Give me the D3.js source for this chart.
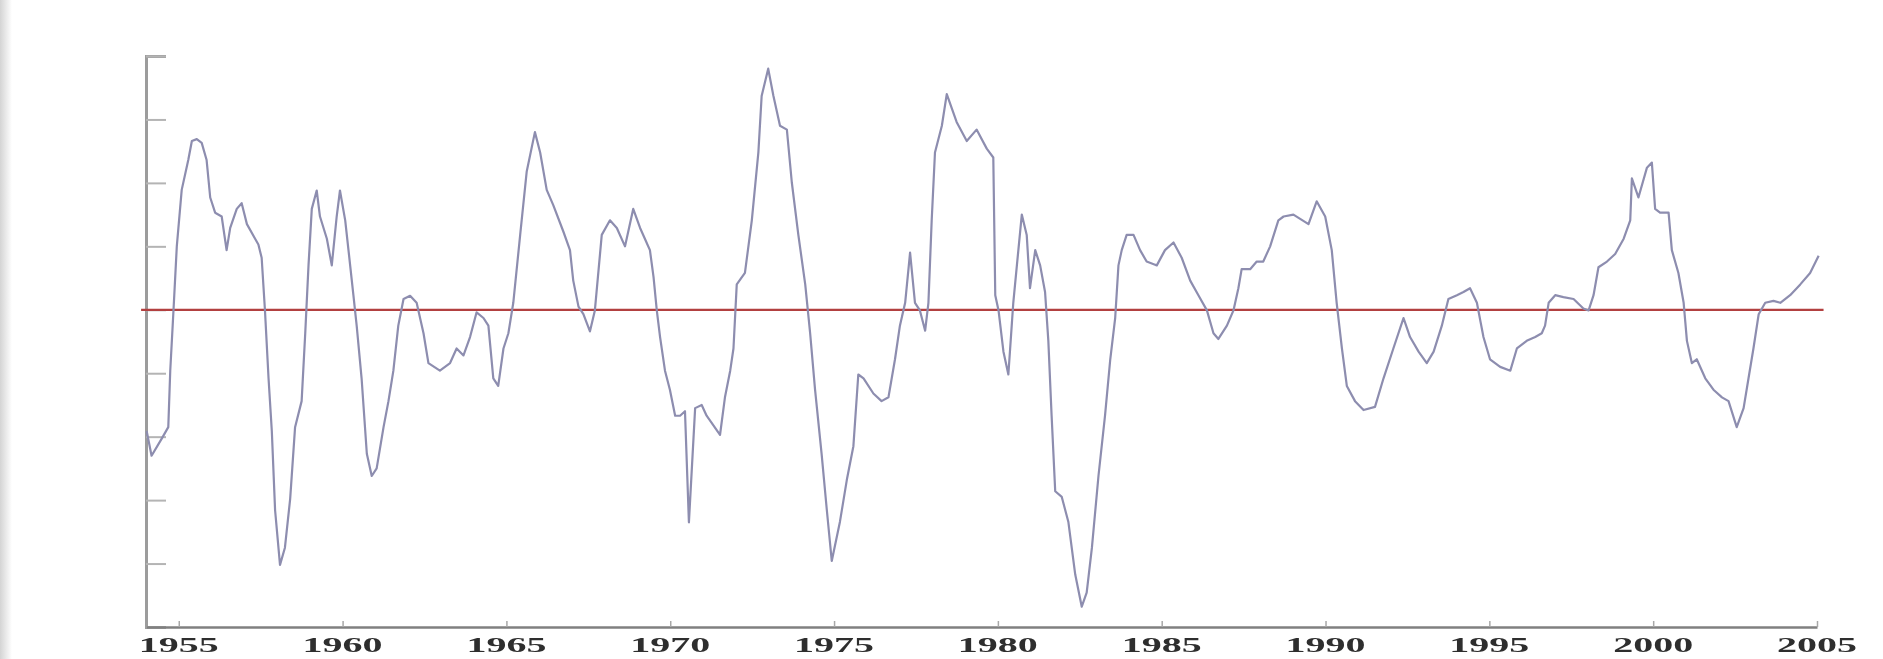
<!DOCTYPE html>
<html>
<head>
<meta charset="utf-8">
<script src="https://cdn.jsdelivr.net/npm/d3@7"></script>
<style>
  html, body { margin: 0; padding: 0; background: #ffffff; }
  svg { display: block; }
</style>
</head>
<body>
<svg id="chart" width="1883" height="659"></svg>
<script>
// ---- data ----
const years = [
  1954.02,1954.17,1954.48,1954.68,1954.74,1954.84,1954.94,1955.09,1955.29,1955.40,
  1955.55,1955.70,1955.85,1955.96,1956.11,1956.31,1956.46,1956.57,1956.77,1956.92,
  1957.08,1957.33,1957.43,1957.53,1957.63,1957.74,1957.84,1957.94,1958.09,1958.24,
  1958.40,1958.55,1958.75,1958.86,1958.96,1959.06,1959.21,1959.31,1959.52,1959.67,
  1959.82,1959.92,1960.08,1960.18,1960.33,1960.43,1960.58,1960.74,1960.89,1961.04,
  1961.25,1961.40,1961.55,1961.70,1961.86,1962.06,1962.26,1962.47,1962.62,
  1962.97,1963.28,1963.48,1963.69,1963.89,1964.09,1964.30,1964.45,1964.60,1964.75,
  1964.91,1965.06,1965.21,1965.42,1965.62,1965.87,1966.03,1966.23,1966.43,1966.74,
  1966.94,1967.04,1967.20,1967.35,1967.55,1967.70,1967.91,1968.16,1968.37,1968.62,
  1968.87,1969.08,1969.38,1969.49,1969.59,1969.69,1969.84,1969.99,1970.15,1970.30,
  1970.45,1970.57,1970.76,1970.96,1971.11,1971.52,1971.67,1971.83,1971.93,1972.03,
  1972.28,1972.49,1972.69,1972.79,1972.99,1973.15,1973.35,1973.56,1973.71,1973.91,
  1974.12,1974.27,1974.42,1974.62,1974.78,1974.93,1975.18,1975.39,1975.59,1975.74,
  1975.90,1976.20,1976.45,1976.66,1976.86,1977.01,1977.17,1977.32,1977.47,1977.62,
  1977.78,1977.88,1977.98,1978.08,1978.29,1978.44,1978.74,1979.05,1979.35,1979.66,
  1979.86,1979.92,1980.02,1980.17,1980.32,1980.47,1980.58,1980.73,1980.88,1980.98,
  1981.14,1981.29,1981.44,1981.54,1981.64,1981.75,1981.95,1982.15,1982.36,1982.56,
  1982.71,1982.87,1983.07,1983.27,1983.43,1983.58,1983.68,1983.78,1983.93,1984.14,
  1984.34,1984.54,1984.85,1985.10,1985.36,1985.61,1985.87,1986.12,1986.38,1986.58,
  1986.73,1986.99,1987.19,1987.34,1987.44,1987.70,1987.90,1988.10,1988.31,1988.56,
  1988.72,1989.02,1989.48,1989.73,1989.99,1990.19,1990.34,1990.50,1990.65,1990.90,
  1991.16,1991.51,1991.77,1992.07,1992.38,1992.58,1992.84,1993.09,1993.30,1993.55,
  1993.75,1994.01,1994.21,1994.41,1994.62,1994.82,1995.02,1995.33,1995.64,1995.84,
  1996.14,1996.40,1996.60,1996.70,1996.81,1997.01,1997.26,1997.57,1997.87,1998.03,
  1998.18,1998.33,1998.59,1998.84,1999.10,1999.30,1999.35,1999.55,1999.81,1999.96,
  2000.06,2000.21,2000.47,2000.57,2000.77,2000.93,2001.03,2001.18,2001.33,2001.59,
  2001.84,2002.10,2002.30,2002.55,2002.76,2002.91,2003.06,2003.22,2003.42,2003.67,
  2003.88,2004.18,2004.49,2004.79,2005.05
];
const values = [
  -1.91,-2.30,-2.03,-1.85,-0.96,0.00,1.00,1.89,2.36,2.66,
  2.69,2.63,2.36,1.77,1.53,1.47,0.94,1.29,1.59,1.68,
  1.35,1.12,1.03,0.82,0.00,-1.08,-1.91,-3.16,-4.02,-3.75,
  -2.98,-1.85,-1.44,-0.37,0.70,1.59,1.88,1.47,1.12,0.70,
  1.47,1.88,1.41,0.94,0.23,-0.25,-1.08,-2.27,-2.62,-2.50,
  -1.85,-1.44,-0.96,-0.25,0.17,0.22,0.11,-0.37,-0.84,
  -0.96,-0.84,-0.61,-0.72,-0.43,-0.04,-0.13,-0.25,-1.08,-1.20,
  -0.61,-0.37,0.11,1.18,2.18,2.80,2.48,1.89,1.65,1.23,
  0.94,0.46,0.05,-0.07,-0.34,-0.01,1.18,1.41,1.29,1.00,
  1.59,1.29,0.94,0.52,-0.01,-0.43,-0.96,-1.26,-1.67,-1.67,
  -1.60,-3.35,-1.55,-1.50,-1.67,-1.97,-1.38,-0.96,-0.61,0.40,
  0.58,1.41,2.48,3.37,3.80,3.37,2.90,2.84,2.01,1.18,
  0.40,-0.37,-1.26,-2.27,-3.16,-3.96,-3.34,-2.68,-2.15,-1.02,
  -1.08,-1.32,-1.44,-1.38,-0.78,-0.25,0.11,0.90,0.11,-0.01,
  -0.33,0.11,1.41,2.48,2.90,3.40,2.96,2.66,2.84,2.54,
  2.40,0.23,-0.01,-0.66,-1.02,0.11,0.70,1.50,1.18,0.34,
  0.94,0.70,0.28,-0.49,-1.67,-2.86,-2.95,-3.34,-4.17,-4.68,
  -4.46,-3.75,-2.62,-1.67,-0.78,-0.13,0.70,0.94,1.18,1.18,
  0.94,0.76,0.70,0.94,1.06,0.82,0.46,0.23,-0.01,-0.37,
  -0.46,-0.25,-0.01,0.34,0.64,0.64,0.76,0.76,1.00,1.41,
  1.47,1.50,1.35,1.71,1.47,0.94,0.11,-0.61,-1.20,-1.44,
  -1.58,-1.53,-1.08,-0.61,-0.13,-0.43,-0.66,-0.84,-0.66,-0.25,
  0.17,0.23,0.28,0.34,0.11,-0.43,-0.78,-0.90,-0.96,-0.61,
  -0.49,-0.43,-0.37,-0.25,0.11,0.23,0.20,0.17,0.02,-0.01,
  0.23,0.67,0.76,0.88,1.12,1.41,2.07,1.77,2.24,2.32,
  1.59,1.53,1.53,0.94,0.58,0.11,-0.49,-0.84,-0.78,-1.08,
  -1.26,-1.38,-1.44,-1.85,-1.55,-1.08,-0.61,-0.07,0.11,0.14,
  0.11,0.23,0.40,0.58,0.85
];
const xTickYears = [1955, 1960, 1965, 1970, 1975, 1980, 1985, 1990, 1995, 2000, 2005];
const yTickValues = [-5, -4, -3, -2, -1, 0, 1, 2, 3, 4];
const xDomain = [1954, 2005];
const yDomain = [-5, 4];
const referenceLevel = 0;
const referenceSpan = [1953.85, 2005.2];

// ---- drawing ----
const svg = d3.select("#chart");
const W = 1883, H = 659;
const margin = { left: 146, right: 66, top: 56, bottom: 32 };

const defs = svg.append("defs");
const grad = defs.append("linearGradient").attr("id", "edge").attr("x1", "0").attr("x2", "1");
grad.append("stop").attr("offset", "0").attr("stop-color", "#d4d4d4");
grad.append("stop").attr("offset", "1").attr("stop-color", "#ffffff");
const soft = defs.append("filter").attr("id", "soft");
soft.append("feGaussianBlur").attr("stdDeviation", 0.6);

svg.append("rect").attr("width", W).attr("height", H).attr("fill", "#ffffff");
svg.append("rect").attr("x", 0).attr("y", 0).attr("width", 12).attr("height", H).attr("fill", "url(#edge)");

const x = d3.scaleLinear().domain(xDomain).range([margin.left, W - margin.right]);
const y = d3.scaleLinear().domain(yDomain).range([H - margin.bottom, margin.top]);

const g = svg.append("g").attr("filter", "url(#soft)");

// y axis (ticks point inward, no labels)
const yAxis = g.append("g")
  .attr("transform", `translate(${margin.left},0)`)
  .call(d3.axisLeft(y).tickValues(yTickValues).tickSize(-20).tickFormat(""));
yAxis.select(".domain").attr("stroke", "#9c9c9c").attr("stroke-width", 3);
yAxis.selectAll(".tick line").attr("stroke", "#b4b4b4").attr("stroke-width", 2);

// x axis (small inward ticks)
const xAxis = g.append("g")
  .attr("transform", `translate(0,${y(yDomain[0])})`)
  .call(d3.axisBottom(x).tickValues(xTickYears).tickSize(-6).tickSizeOuter(0).tickFormat(""));
xAxis.select(".domain").attr("stroke", "#808080").attr("stroke-width", 2.5);
xAxis.selectAll(".tick line").attr("stroke", "#a8a8a8").attr("stroke-width", 1.5);

// x labels (stretched, bold serif)
g.append("g").selectAll("text")
  .data(xTickYears)
  .join("text")
  .attr("x", d => x(d) - 40)
  .attr("y", 652)
  .attr("textLength", 80)
  .attr("lengthAdjust", "spacingAndGlyphs")
  .attr("font-family", "Liberation Serif, serif")
  .attr("font-weight", "bold")
  .attr("font-size", 22)
  .attr("fill", "#2e2e2e")
  .text(d => d);

// zero reference line
g.append("line")
  .attr("x1", x(referenceSpan[0])).attr("x2", x(referenceSpan[1]))
  .attr("y1", y(referenceLevel)).attr("y2", y(referenceLevel))
  .attr("stroke", "#b2413f").attr("stroke-width", 2.2);

// series line
const pts = years.map((yr, i) => [yr, values[i]]);
g.append("path")
  .datum(pts)
  .attr("fill", "none")
  .attr("stroke", "#8d8daf")
  .attr("stroke-width", 2.2)
  .attr("stroke-linejoin", "round")
  .attr("d", d3.line().x(d => x(d[0])).y(d => y(d[1])));
</script>
</body>
</html>
